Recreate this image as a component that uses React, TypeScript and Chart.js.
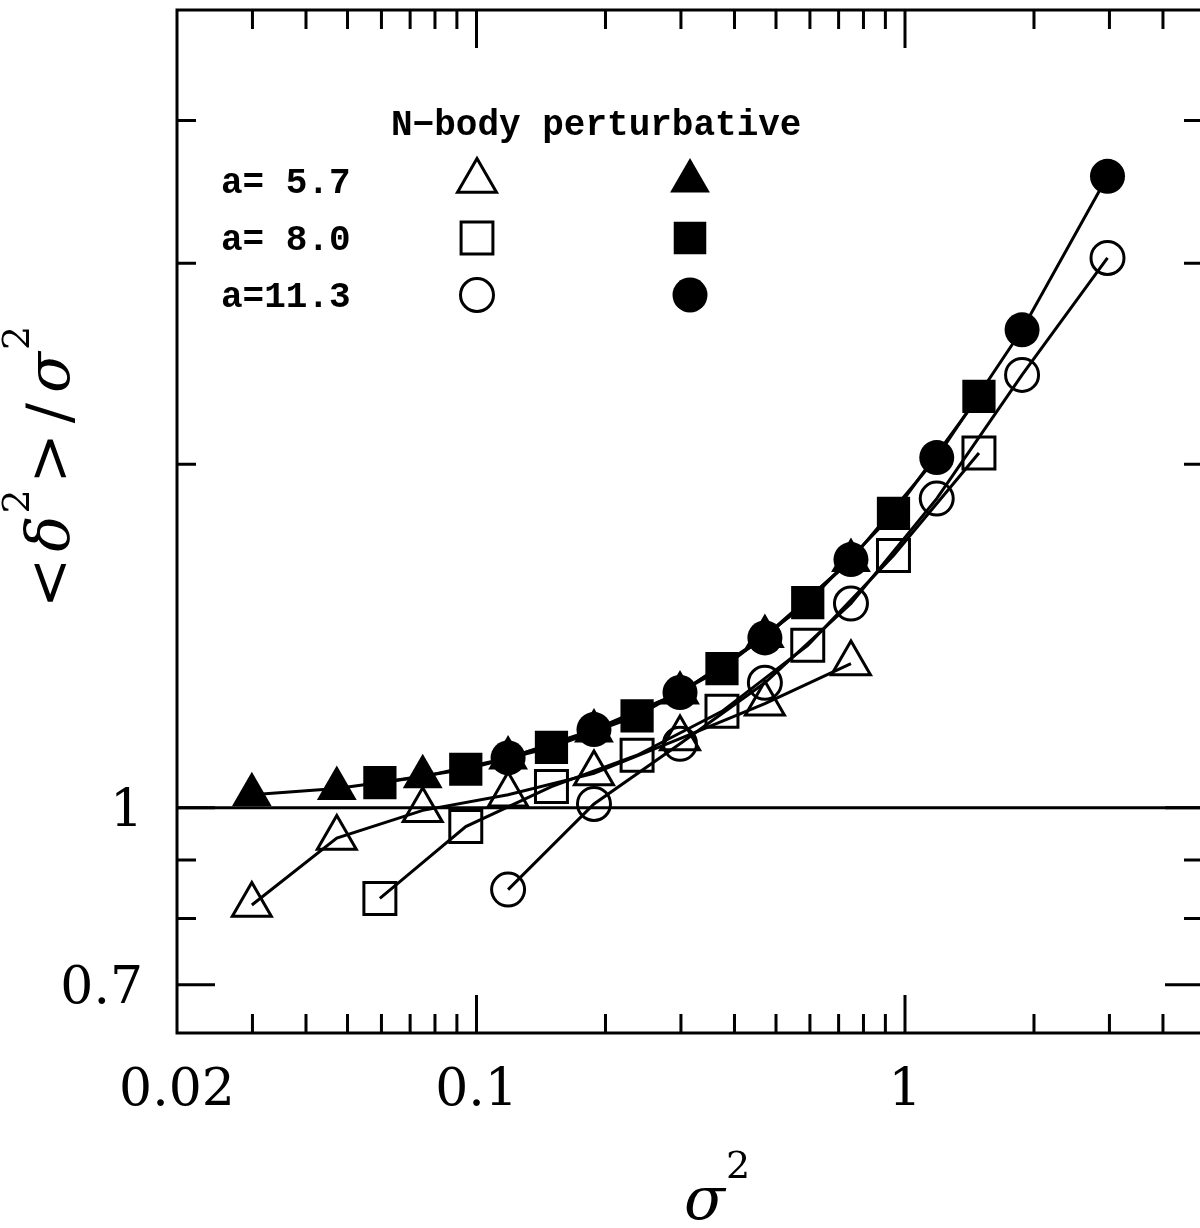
import React, { useEffect, useRef } from 'react';
import { Chart, registerables } from 'chart.js';
import { drawPoint } from 'chart.js/helpers';

Chart.register(...registerables);

// sigma^2 values (x) for each smoothing series
const sigma2A57 = [0.0299, 0.0472, 0.0749, 0.1185, 0.188, 0.2985, 0.471, 0.748];
const sigma2A80 = [0.0595, 0.0944, 0.1496, 0.237, 0.374, 0.593, 0.94, 1.488];
const sigma2A113 = [0.1185, 0.188, 0.2985, 0.471, 0.748, 1.186, 1.876, 2.969];

// <delta^2>/sigma^2 values
const nbodyA57 = [0.822, 0.941, 0.995, 1.027, 1.072, 1.15, 1.234, 1.338];
const nbodyA80 = [0.833, 0.963, 1.044, 1.112, 1.215, 1.388, 1.664, 2.046];
const nbodyA113 = [0.848, 1.008, 1.138, 1.287, 1.51, 1.866, 2.395, 3.032];
const pertA57 = [1.027, 1.04, 1.065, 1.106, 1.168, 1.261, 1.413, 1.647];
const pertA80 = [1.052, 1.081, 1.13, 1.204, 1.324, 1.513, 1.811, 2.293];
const pertA113 = [1.106, 1.171, 1.262, 1.409, 1.65, 2.027, 2.623, 3.575];

const refLineY = 1;

// axis ticks
const xMajorTicks = [0.1, 1];
const xMinorTicks = [0.03, 0.04, 0.05, 0.06, 0.07, 0.08, 0.09, 0.2, 0.3, 0.4, 0.5, 0.6, 0.7, 0.8, 0.9, 2, 3, 4];
const xLabelValues = [0.02, 0.1, 1];
const xLabelTexts = ['0.02', '0.1', '1'];
const yMajorTicks = [0.7, 1];
const yMinorTicks = [0.8, 0.9, 2, 3, 4];
const yLabelValues = [0.7, 1];
const yLabelTexts = ['0.7', '1'];

const legendHeader = 'N\u2212body perturbative';
const legendLabels = ['a= 5.7', 'a= 8.0', 'a=11.3'];
const legendStyles = ['triangle', 'rect', 'circle'];

const pts = (xs: number[], ys: number[]) => xs.map((x, i) => ({ x, y: ys[i] }));

const openDs = (label: string, xs: number[], ys: number[], style: string, r: number) => ({
  label,
  data: pts(xs, ys),
  showLine: true,
  borderColor: '#000',
  borderWidth: 3,
  pointStyle: style,
  pointRadius: r,
  pointBorderWidth: 3,
  pointBorderColor: '#000',
  pointBackgroundColor: 'rgba(0,0,0,0)',
  tension: 0,
});

const filledDs = (label: string, xs: number[], ys: number[], style: string, r: number) => ({
  label,
  data: pts(xs, ys),
  showLine: true,
  borderColor: '#000',
  borderWidth: 3,
  pointStyle: style,
  pointRadius: r,
  pointBorderWidth: 0,
  pointBorderColor: '#000',
  pointBackgroundColor: '#000',
  tension: 0,
});

const SERIF = 'DejaVu Serif';
const MONO = 'Liberation Mono';

const framePlugin = {
  id: 'frameTicks',
  beforeDatasetsDraw(chart: any) {
    const { ctx, chartArea, scales } = chart;
    const py = scales.y.getPixelForValue(refLineY);
    ctx.save();
    ctx.strokeStyle = '#000';
    ctx.lineWidth = 3;
    ctx.beginPath();
    ctx.moveTo(chartArea.left, py);
    ctx.lineTo(chartArea.right, py);
    ctx.stroke();
    ctx.restore();
  },
  afterDraw(chart: any) {
    const { ctx, chartArea, scales } = chart;
    const { left, right, top, bottom } = chartArea;
    const xs = scales.x;
    const ys = scales.y;
    ctx.save();
    ctx.strokeStyle = '#000';
    ctx.fillStyle = '#000';
    ctx.lineWidth = 3;
    ctx.lineJoin = 'miter';
    ctx.lineCap = 'butt';
    ctx.strokeRect(left, top, right - left, bottom - top);

    const minorLen = 19;
    const majorLen = 38;
    const xTick = (v: number, len: number) => {
      const p = xs.getPixelForValue(v);
      ctx.beginPath();
      ctx.moveTo(p, bottom);
      ctx.lineTo(p, bottom - len);
      ctx.moveTo(p, top);
      ctx.lineTo(p, top + len);
      ctx.stroke();
    };
    const yTick = (v: number, len: number) => {
      const p = ys.getPixelForValue(v);
      ctx.beginPath();
      ctx.moveTo(left, p);
      ctx.lineTo(left + len, p);
      ctx.moveTo(right, p);
      ctx.lineTo(right - len, p);
      ctx.stroke();
    };
    xMinorTicks.forEach((v) => xTick(v, minorLen));
    xMajorTicks.forEach((v) => xTick(v, majorLen));
    yMinorTicks.forEach((v) => yTick(v, minorLen));
    yMajorTicks.forEach((v) => yTick(v, majorLen));

    // tick labels
    ctx.font = `52px "${SERIF}"`;
    ctx.textBaseline = 'alphabetic';
    ctx.textAlign = 'center';
    xLabelValues.forEach((v, i) => {
      ctx.fillText(xLabelTexts[i], xs.getPixelForValue(v), bottom + 72);
    });
    ctx.textAlign = 'right';
    yLabelValues.forEach((v, i) => {
      ctx.fillText(yLabelTexts[i], left - 34, ys.getPixelForValue(v) + 18);
    });

    // x title: sigma^2
    ctx.textAlign = 'left';
    ctx.font = `italic 60px "${SERIF}"`;
    const sx = 684;
    ctx.fillText('\u03c3', sx, 1219);
    const sw = ctx.measureText('\u03c3').width;
    ctx.font = `38px "${SERIF}"`;
    ctx.fillText('2', sx + sw + 1, 1178);

    // y title: <delta^2>/sigma^2 (rotated)
    ctx.save();
    ctx.translate(69, 608);
    ctx.rotate(-Math.PI / 2);
    const pieces = [
      { t: '<', f: `60px "${SERIF}"`, dy: 0, gap: 6 },
      { t: '\u03b4', f: `italic 60px "${SERIF}"`, dy: 0, gap: 2 },
      { t: '2', f: `38px "${SERIF}"`, dy: -40, gap: 6 },
      { t: '>', f: `60px "${SERIF}"`, dy: 0, gap: 10 },
      { t: '/', f: `60px "${SERIF}"`, dy: 0, gap: 10 },
      { t: '\u03c3', f: `italic 60px "${SERIF}"`, dy: 0, gap: 2 },
      { t: '2', f: `38px "${SERIF}"`, dy: -40, gap: 0 },
    ];
    let u = 0;
    pieces.forEach((p) => {
      ctx.font = p.f;
      ctx.fillText(p.t, u, p.dy);
      u += ctx.measureText(p.t).width + p.gap;
    });
    ctx.restore();

    // legend
    ctx.font = `bold 36px "${MONO}"`;
    ctx.textAlign = 'left';
    ctx.fillText(legendHeader, 391, 135);
    const rowY = [181, 238, 295];
    const colOpen = 477;
    const colFilled = 690;
    legendLabels.forEach((t, i) => {
      ctx.font = `bold 36px "${MONO}"`;
      ctx.fillStyle = '#000';
      ctx.fillText(t, 221, rowY[i] + 12);
      const style = legendStyles[i];
      const rOpen = style === 'circle' ? 16.5 : 22.5;
      const rFilled = style === 'circle' ? 17.5 : 23;
      ctx.fillStyle = 'rgba(0,0,0,0)';
      ctx.strokeStyle = '#000';
      ctx.lineWidth = 3;
      drawPoint(ctx, { pointStyle: style, radius: rOpen, borderWidth: 3, rotation: 0 } as any, colOpen, rowY[i]);
      ctx.fillStyle = '#000';
      drawPoint(ctx, { pointStyle: style, radius: rFilled, borderWidth: 0, rotation: 0 } as any, colFilled, rowY[i]);
    });
    ctx.restore();
  },
};

export default function App() {
  const ref = useRef<HTMLCanvasElement>(null);
  useEffect(() => {
    const canvas = ref.current;
    if (!canvas) return;
    const chart = new Chart(canvas, {
      type: 'scatter',
      data: {
        datasets: [
          openDs('N-body a=5.7', sigma2A57, nbodyA57, 'triangle', 22.5),
          openDs('N-body a=8.0', sigma2A80, nbodyA80, 'rect', 22.6),
          openDs('N-body a=11.3', sigma2A113, nbodyA113, 'circle', 16.5),
          filledDs('perturbative a=5.7', sigma2A57, pertA57, 'triangle', 23),
          filledDs('perturbative a=8.0', sigma2A80, pertA80, 'rect', 23.5),
          filledDs('perturbative a=11.3', sigma2A113, pertA113, 'circle', 17.5),
        ] as any,
      },
      options: {
        responsive: false,
        animation: false,
        devicePixelRatio: 1,
        events: [],
        layout: { autoPadding: false, padding: { left: 177, top: 10, right: 2, bottom: 195 } },
        plugins: { legend: { display: false }, tooltip: { enabled: false } },
        scales: {
          x: { type: 'logarithmic', bounds: 'data', min: 0.02, max: 4.96, display: false },
          y: { type: 'logarithmic', bounds: 'data', min: 0.635, max: 5.0, display: false },
        },
      },
      plugins: [framePlugin],
    });
    return () => chart.destroy();
  }, []);
  return (
    <div style={{ position: 'fixed', left: 0, top: 0, width: 1200, height: 1228, overflow: 'hidden', background: '#fff' }}>
      <canvas ref={ref} width={1205} height={1228} style={{ display: 'block' }} />
    </div>
  );
}
